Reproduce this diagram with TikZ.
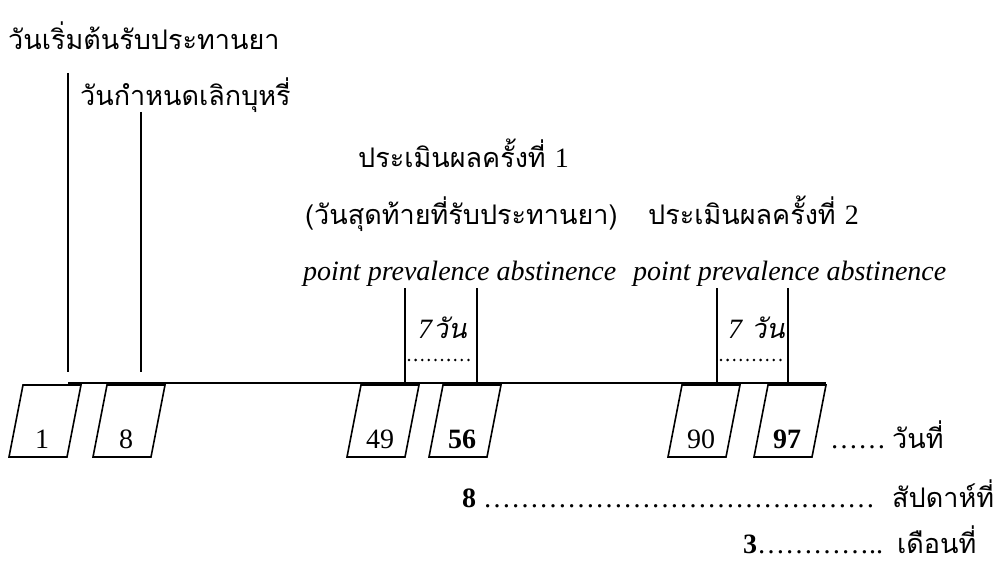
\documentclass[tikz,border=0pt]{standalone}
\usepackage{fontspec}
\setmainfont{Liberation Serif}
\newfontfamily\thai[Script=Thai]{Loma}
\newfontfamily\thaiit[Script=Thai,FakeSlant=0.2]{Loma}
\newcommand\lnum[1]{{\rmfamily\fontsize{28}{32}\selectfont #1}}
\newcommand\ellx{…}
\begin{document}
\begin{tikzpicture}[x=1pt,y=-1pt,
  lw/.style={line width=1.6pt},
  dotline/.style={line width=2.8pt,line cap=round,dash pattern=on 0pt off 6.6pt},
  th/.style={font=\thai\fontsize{27}{31}\selectfont,anchor=base west,inner sep=0pt},
  thi/.style={font=\thaiit\fontsize{27}{31}\selectfont,anchor=base west,inner sep=0pt},
  lt/.style={font=\fontsize{28}{32}\selectfont,anchor=base west,inner sep=0pt},
  num/.style={font=\fontsize{28}{32}\selectfont,anchor=base,inner sep=0pt}]
\useasboundingbox (0,0) rectangle (1006,572);
% texts
\node[th] (t1) at (8,50) {วันเริ่มต้นรับประทานยา};
\node[th] (t2) at (80,106) {วันกำหนดเลิกบุหรี่};
\node[th] (t3) at (358,168) {ประเมินผลครั้งที่ \lnum{1}};
\node[th] (t4) at (305,225) {(วันสุดท้ายที่รับประทานยา)};
\node[th] (t5) at (648,225) {ประเมินผลครั้งที่ \lnum{2}};
\node[lt] (p1) at (303,280) {\itshape point prevalence abstinence};
\node[lt] (p2) at (633,280) {\itshape point prevalence abstinence};
\node[thi] (s1) at (418,338) {\lnum{\itshape 7}\kern1pt วัน};
\node[thi] (s2) at (728,338) {\lnum{\itshape 7} วัน};
% vertical marker lines
\coordinate (v1t) at (68,73);  \coordinate (v1b) at (68,372);
\coordinate (v2t) at (141,112); \coordinate (v2b) at (141,372);
\draw[lw] (v1t) -- (v1b);
\draw[lw] (v2t) -- (v2b);
% time axis
\coordinate (hl) at (68,383); \coordinate (hr) at (826,383);
\draw[lw] (hl) -- (hr);
% brackets
\coordinate (a1) at (405,288); \coordinate (a1b) at (405,383);
\coordinate (a2) at (477,288); \coordinate (a2b) at (477,383);
\coordinate (c1) at (717,288); \coordinate (c1b) at (717,383);
\coordinate (c2) at (788,288); \coordinate (c2b) at (788,383);
\draw[lw] (a1) -- (a1b); \draw[lw] (a2) -- (a2b);
\draw[lw] (c1) -- (c1b); \draw[lw] (c2) -- (c2b);
\coordinate (d1l) at (409,360); \coordinate (d1r) at (474,360);
\coordinate (d2l) at (721,360); \coordinate (d2r) at (785,360);
\draw[dotline] (d1l) -- (d1r);
\draw[dotline] (d2l) -- (d2r);
% day boxes
\foreach \x/\t/\n in {9/1/b1, 93/8/b8, 347/49/b49, 429/{\textbf{56}}/b56, 668/90/b90, 754/{\textbf{97}}/b97}{
  \draw[lw,line join=miter] (\x,457) -- (\x+58,457) -- (\x+72,385) -- (\x+14,385) -- cycle;
  \node[num] (\n) at (\x+33,448) {\t};
}
% scales
\node[lt] (dd) at (830,448) {\ellx\ellx};
\node[th] (u1) at (892,448) {วันที่};
\node[lt] (w8) at (462,507) {\textbf{8} \ellx\ellx\ellx\ellx\ellx\ellx\ellx\ellx\ellx\ellx\ellx\ellx\ellx\ellx};
\node[th] (u2) at (892,507) {สัปดาห์ที่};
\node[lt] (m3) at (743,553) {\textbf{3}\ellx\ellx\ellx\ellx..};
\node[th] (u3) at (897,553) {เดือนที่};
\end{tikzpicture}
\end{document}
